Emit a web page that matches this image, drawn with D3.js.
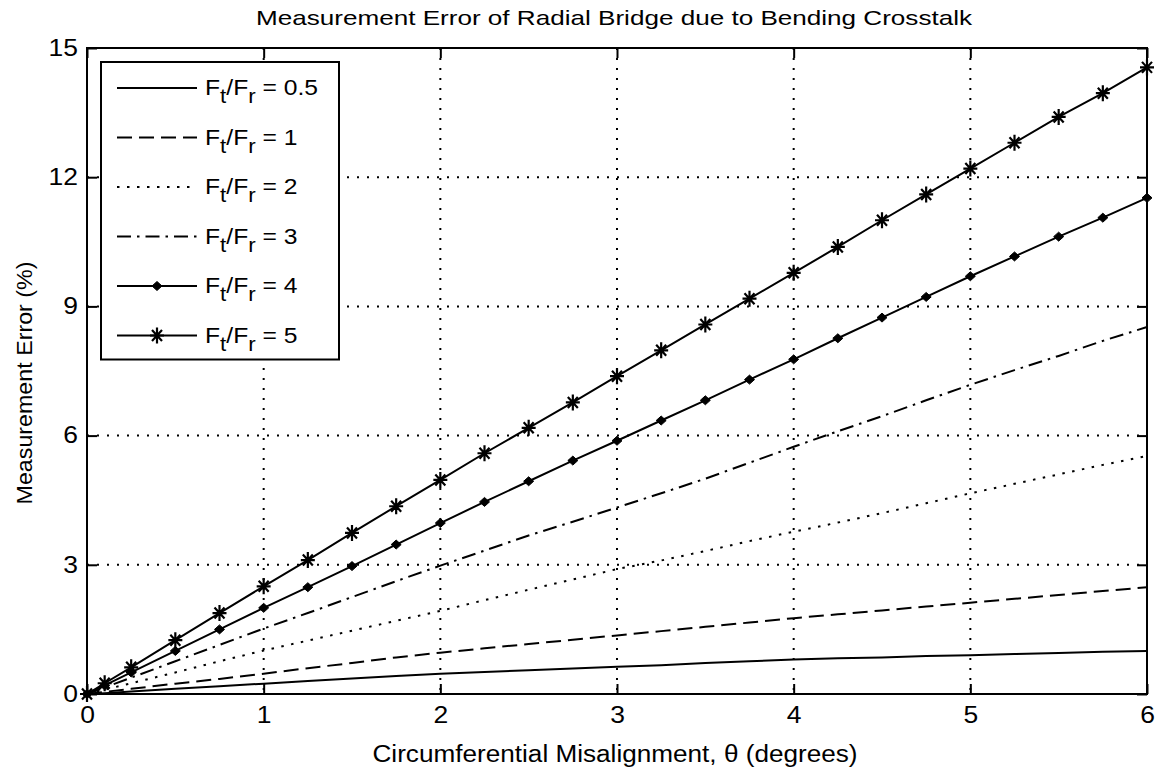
<!DOCTYPE html>
<html>
<head>
<meta charset="utf-8">
<script src="https://cdn.jsdelivr.net/npm/d3@7"></script>
<style>
  body { margin: 0; background: #fff; }
  text { font-family: "Liberation Sans", Arial, sans-serif; fill: #000; }
</style>
</head>
<body>
<div id="chart"></div>
<script>
// Measurement error vs circumferential misalignment

// angles (degrees)
const theta = [0, 0.1, 0.25, 0.5, 0.75, 1, 1.25, 1.5, 1.75, 2, 2.25, 2.5, 2.75, 3,
  3.25, 3.5, 3.75, 4, 4.25, 4.5, 4.75, 5, 5.25, 5.5, 5.75, 6];

// error (%) for each Ft/Fr ratio
const err05 = [0, 0.02, 0.06, 0.12, 0.18, 0.24, 0.3, 0.36, 0.42, 0.47, 0.51, 0.55, 0.59, 0.63,
  0.67, 0.72, 0.76, 0.8, 0.83, 0.85, 0.88, 0.9, 0.93, 0.95, 0.98, 1.0];
const err1 = [0, 0.05, 0.12, 0.24, 0.35, 0.47, 0.6, 0.72, 0.85, 0.96, 1.06, 1.16, 1.26, 1.36,
  1.46, 1.56, 1.66, 1.76, 1.85, 1.94, 2.03, 2.12, 2.21, 2.3, 2.39, 2.48];
const err2 = [0, 0.1, 0.25, 0.5, 0.76, 1.01, 1.24, 1.47, 1.7, 1.93, 2.18, 2.42, 2.66, 2.9,
  3.1, 3.32, 3.55, 3.77, 3.98, 4.2, 4.43, 4.66, 4.88, 5.1, 5.32, 5.53];
const err3 = [0, 0.15, 0.38, 0.76, 1.14, 1.52, 1.88, 2.25, 2.62, 2.98, 3.33, 3.68, 4.0, 4.33,
  4.66, 5.0, 5.37, 5.74, 6.1, 6.45, 6.82, 7.18, 7.52, 7.85, 8.2, 8.52];
const err4 = [0, 0.2, 0.5, 1.0, 1.5, 2.0, 2.48, 2.97, 3.47, 3.97, 4.46, 4.94, 5.42, 5.88,
  6.35, 6.82, 7.3, 7.77, 8.26, 8.74, 9.22, 9.7, 10.16, 10.62, 11.06, 11.52];
const err5 = [0, 0.25, 0.62, 1.25, 1.88, 2.5, 3.11, 3.74, 4.36, 4.97, 5.59, 6.18, 6.77, 7.38,
  7.98, 8.58, 9.18, 9.78, 10.38, 11.0, 11.6, 12.2, 12.8, 13.4, 13.95, 14.55];

const ratios = ["0.5", "1", "2", "3", "4", "5"];
const xTicks = [0, 1, 2, 3, 4, 5, 6];
const yTicks = [0, 3, 6, 9, 12, 15];

const seriesValues = [err05, err1, err2, err3, err4, err5];

// line look per series
const styles = [
  {dash: null, marker: null},
  {dash: "15,7", marker: null},
  {dash: "2.5,7.5", marker: null},
  {dash: "14,6,2.5,6", marker: null},
  {dash: null, marker: "diamond"},
  {dash: null, marker: "star"}
];

// set the dimensions and margins of the graph
const margin = {top: 48, right: 15, bottom: 79, left: 87},
    width = 1162 - margin.left - margin.right,
    height = 773 - margin.top - margin.bottom;

const svgRoot = d3.select("#chart")
  .append("svg")
    .attr("width", 1162)
    .attr("height", 773);

const svg = svgRoot.append("g")
    .attr("transform", `translate(${margin.left}, ${margin.top})`);

const x = d3.scaleLinear().domain([0, 6]).range([0, width]);
const y = d3.scaleLinear().domain([0, 15]).range([height, 0]);

// stretch text horizontally, the scan is wider than tall
function widen(sel, k) {
  sel.each(function() {
    const w = this.getComputedTextLength();
    d3.select(this).attr("textLength", w * k).attr("lengthAdjust", "spacingAndGlyphs");
  });
}

// grid
const grid = svg.append("g")
    .attr("stroke", "#000")
    .attr("stroke-width", 2)
    .attr("stroke-dasharray", "2,8");
grid.selectAll(".gx")
  .data(xTicks.slice(1, -1))
  .join("line")
    .attr("x1", d => x(d)).attr("x2", d => x(d))
    .attr("y1", 0).attr("y2", height);
grid.selectAll(".gy")
  .data(yTicks.slice(1, -1))
  .join("line")
    .attr("y1", d => y(d)).attr("y2", d => y(d))
    .attr("x1", 0).attr("x2", width);

// axes, ticks inside like matlab
const fmt = d3.format("d");
const xAxis = svg.append("g")
    .attr("transform", `translate(0, ${height})`)
    .call(d3.axisBottom(x).tickValues(xTicks).tickFormat(fmt).tickSizeInner(-10).tickSizeOuter(0).tickPadding(13));
const yAxis = svg.append("g")
    .call(d3.axisLeft(y).tickValues(yTicks).tickFormat(fmt).tickSizeInner(-10).tickSizeOuter(0).tickPadding(9));
svg.append("g")
    .call(d3.axisTop(x).tickValues(xTicks).tickSizeInner(-10).tickSizeOuter(0).tickFormat(""));
svg.append("g")
    .attr("transform", `translate(${width}, 0)`)
    .call(d3.axisRight(y).tickValues(yTicks).tickSizeInner(-10).tickSizeOuter(0).tickFormat(""));

svg.selectAll(".domain").remove();
svg.selectAll(".tick line").attr("stroke", "#000").attr("stroke-width", 2);
svg.selectAll(".tick text")
    .attr("font-size", 23)
    .attr("font-family", "Liberation Sans, Arial, sans-serif");
widen(svg.selectAll(".tick text"), 1.15);

// data lines
const line = d3.line()
  .x((d, i) => x(theta[i]))
  .y(d => y(d));

const series = svg.append("g");
seriesValues.forEach(function(vals, k) {
  series.append("path")
    .datum(vals)
    .attr("fill", "none")
    .attr("stroke", "#000")
    .attr("stroke-width", 2)
    .attr("stroke-dasharray", styles[k].dash)
    .attr("d", line);
});

// markers
const diamond = "M-5,0L0,-4.5L5,0L0,4.5Z";
const star = "M-7,0L7,0M0,-8L0,8M-5,-5.5L5,5.5M-5,5.5L5,-5.5";

function drawMarker(g, type) {
  if (type === "diamond") {
    g.append("path").attr("d", diamond).attr("fill", "#000").attr("stroke", "#000").attr("stroke-width", 1);
  } else if (type === "star") {
    g.append("path").attr("d", star).attr("fill", "none").attr("stroke", "#000").attr("stroke-width", 2.2);
  }
}

seriesValues.forEach(function(vals, k) {
  if (!styles[k].marker) return;
  series.selectAll(".m" + k)
    .data(vals)
    .join("g")
      .attr("transform", (d, i) => `translate(${x(theta[i])}, ${y(d)})`)
      .each(function() { drawMarker(d3.select(this), styles[k].marker); });
});

// box
svg.append("rect")
    .attr("width", width)
    .attr("height", height)
    .attr("fill", "none")
    .attr("stroke", "#000")
    .attr("stroke-width", 2);

// legend
const lg = svg.append("g")
    .attr("transform", `translate(${101 - margin.left}, ${62 - margin.top})`);
const rowH = 49.5;
lg.append("rect")
    .attr("width", 238)
    .attr("height", 26 + rowH * 5 + 24)
    .attr("fill", "#fff")
    .attr("stroke", "#000")
    .attr("stroke-width", 2);

ratios.forEach(function(r, k) {
  const row = lg.append("g").attr("transform", `translate(0, ${26 + k * rowH})`);
  row.append("line")
    .attr("x1", 16).attr("x2", 96)
    .attr("stroke", "#000")
    .attr("stroke-width", 2)
    .attr("stroke-dasharray", styles[k].dash);
  if (styles[k].marker) {
    drawMarker(row.append("g").attr("transform", "translate(56, 0)"), styles[k].marker);
  }
  const t = row.append("text")
    .attr("x", 104)
    .attr("y", 7)
    .attr("font-size", 22);
  t.append("tspan").text("F");
  t.append("tspan").text("t").attr("dy", 8).attr("font-size", 20);
  t.append("tspan").text("/F").attr("dy", -8);
  t.append("tspan").text("r").attr("dy", 8).attr("font-size", 20);
  t.append("tspan").text(" = " + r).attr("dy", -8);
  widen(t, 1.12);
});

// title and labels
const title = svgRoot.append("text")
    .attr("x", 614)
    .attr("y", 25)
    .attr("text-anchor", "middle")
    .attr("font-size", 21)
    .text("Measurement Error of Radial Bridge due to Bending Crosstalk");
title.attr("textLength", 716).attr("lengthAdjust", "spacingAndGlyphs");

svgRoot.append("text")
    .attr("x", 615)
    .attr("y", 762)
    .attr("text-anchor", "middle")
    .attr("font-size", 23)
    .attr("textLength", 485)
    .attr("lengthAdjust", "spacingAndGlyphs")
    .text("Circumferential Misalignment, \u03b8 (degrees)");

svgRoot.append("text")
    .attr("transform", "translate(32, 383) rotate(-90)")
    .attr("text-anchor", "middle")
    .attr("font-size", 22)
    .attr("textLength", 243)
    .attr("lengthAdjust", "spacingAndGlyphs")
    .text("Measurement Error (%)");
</script>
</body>
</html>
